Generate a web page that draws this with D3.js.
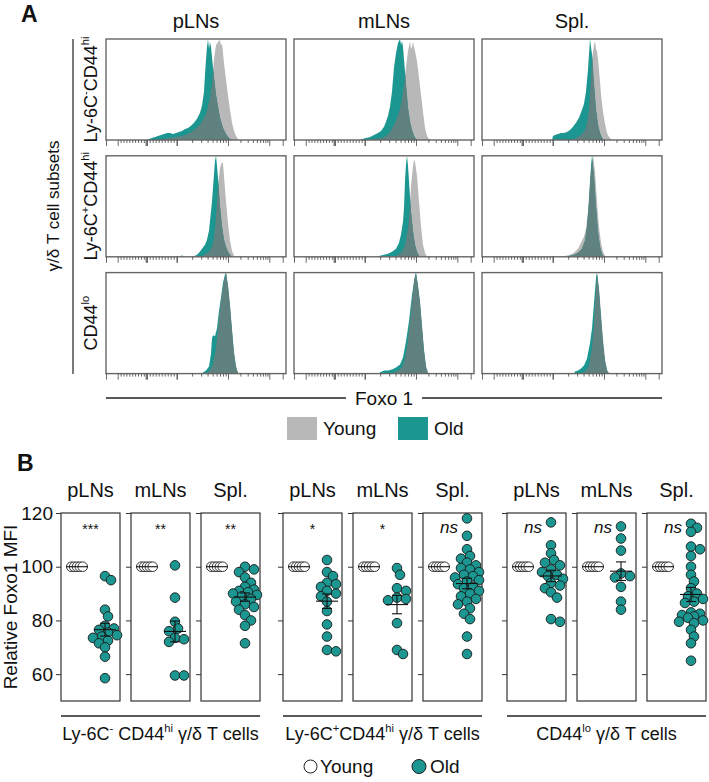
<!DOCTYPE html>
<html>
<head>
<meta charset="utf-8">
<script src="https://cdn.jsdelivr.net/npm/d3@7"></script>
<style>
  body { margin: 0; background: #fff; }
  svg { display: block; font-family: "Liberation Sans", Arial, sans-serif; }
</style>
</head>
<body>
<svg id="fig" width="709" height="782"></svg>
<script>
// ---- data ----
const organs = ['pLNs', 'mLNs', 'Spl.'];
const subsetLabels = [
  [['Ly-6C', 0], ['-', 1], ['CD44', 0], ['hi', 1]],
  [['Ly-6C', 0], ['+', 1], ['CD44', 0], ['hi', 1]],
  [['CD44', 0], ['lo', 1]],
];
const groupLabels = [
  [['Ly-6C', 0], ['-', 1], [' CD44', 0], ['hi', 1], [' γ/δ T cells', 0]],
  [['Ly-6C', 0], ['+', 1], ['CD44', 0], ['hi', 1], [' γ/δ T cells', 0]],
  [['CD44', 0], ['lo', 1], [' γ/δ T cells', 0]],
];

// histograms: [channel, % of max], one list per organ (pLNs, mLNs, Spl.)
const histHiNegYoung = [
  [[54,0],[58,1],[64,2],[70,3],[76,4],[82,6],[88,10],[94,15],[98,22],[101,29],[104,42],[106,56],[108,80],[110,94],[112,97],[114,99],[115,93],[116,96],[118,76],[120,60],[122,44],[124,30],[126,17],[128,9],[130,4],[132,1],[134,0]],
  [[78,0],[82,1],[88,2],[92,4],[96,8],[100,15],[104,24],[107,35],[110,55],[112,72],[114,88],[116,98],[117,90],[118,92],[119,97],[121,88],[123,78],[125,62],[127,45],[129,28],[131,12],[133,4],[135,1],[137,0]],
  [[88,0],[92,1],[96,3],[100,6],[103,10],[105,16],[107,30],[109,60],[110,80],[112,94],[113,98],[114,90],[115,88],[116,80],[118,58],[119,45],[121,28],[123,16],[125,7],[127,3],[129,1],[131,0]],
];
const histHiNegOld = [
  [[41,0],[43,1],[46,2],[49,3],[52,4],[55,5],[58,6],[61,7],[64,7],[67,6],[70,7],[73,8],[76,9],[79,11],[82,12],[85,14],[88,17],[91,21],[94,27],[96,34],[98,48],[99,65],[100,80],[101,92],[102,100],[103,90],[104,97],[105,92],[107,72],[108,62],[110,45],[112,33],[114,22],[117,12],[120,6],[123,2],[126,0]],
  [[66,0],[68,1],[72,2],[76,3],[80,5],[84,7],[87,9],[90,13],[92,18],[94,24],[96,33],[98,48],[100,72],[102,86],[104,96],[106,100],[107,94],[108,98],[109,92],[110,80],[112,55],[114,32],[116,18],[118,10],[120,4],[122,1],[124,0]],
  [[70,0],[71,4],[73,5],[76,6],[79,7],[82,7],[85,8],[88,10],[91,13],[94,17],[97,22],[100,30],[102,36],[104,48],[106,70],[107,85],[108,100],[109,92],[110,85],[111,70],[112,55],[114,30],[116,15],[118,7],[120,2],[122,0]],
];
const histHiPosYoung = [
  [[94,0],[97,1],[100,3],[103,5],[105,8],[107,13],[109,28],[110,40],[112,70],[114,88],[116,94],[117,92],[118,80],[120,55],[122,33],[124,16],[126,6],[128,1],[130,0]],
  [[100,0],[104,2],[108,5],[111,12],[114,28],[116,50],[117,70],[119,90],[120,96],[121,94],[123,80],[125,55],[127,30],[129,12],[131,4],[133,0]],
  [[80,0],[84,1],[88,2],[92,4],[96,8],[99,14],[102,20],[104,28],[106,45],[108,75],[110,95],[111,100],[113,85],[115,55],[117,30],[119,14],[121,5],[123,1],[125,0]],
];
const histHiPosOld = [
  [[75,0],[76,2],[77,0],[87,0],[89,1],[91,2],[93,4],[96,8],[99,12],[101,17],[103,26],[105,45],[106,55],[108,82],[109,95],[110,100],[111,90],[112,78],[114,50],[116,30],[118,17],[120,10],[122,5],[124,2],[126,0]],
  [[82,0],[86,1],[90,2],[94,3],[98,5],[102,8],[105,14],[107,22],[109,35],[110,48],[111,75],[112,92],[113,100],[114,90],[115,75],[117,45],[119,25],[121,12],[123,5],[125,1],[127,0]],
  [[84,0],[88,1],[92,2],[96,4],[100,8],[103,16],[105,30],[107,55],[109,90],[110,100],[112,80],[114,50],[116,25],[118,10],[120,3],[122,0]],
];
const histLoYoung = [
  [[98,0],[101,1],[104,3],[107,10],[110,25],[112,45],[114,65],[116,80],[118,92],[120,100],[122,88],[124,69],[126,45],[128,22],[130,8],[132,1],[134,0]],
  [[98,0],[100,1],[104,3],[108,6],[111,15],[114,33],[117,62],[120,92],[122,100],[124,88],[126,72],[128,48],[130,25],[132,8],[134,1],[136,0]],
  [[98,0],[101,1],[104,3],[107,8],[110,25],[112,50],[114,85],[115,100],[117,85],[119,60],[121,35],[123,15],[125,4],[127,0]],
];
const histLoOld = [
  [[96,0],[97,1],[100,3],[103,7],[105,20],[106,35],[107,38],[109,37],[111,45],[113,62],[115,75],[117,90],[119,98],[120,100],[122,86],[124,66],[126,42],[128,20],[130,6],[132,0]],
  [[85,0],[86,1],[90,3],[94,3],[98,4],[102,6],[106,9],[109,16],[112,32],[115,52],[118,78],[121,97],[122,100],[124,86],[126,70],[128,46],[130,22],[132,6],[134,0]],
  [[92,0],[93,2],[96,3],[99,5],[102,8],[105,15],[108,30],[110,45],[112,70],[114,95],[115,100],[117,82],[119,55],[121,30],[123,12],[125,3],[127,0]],
];

// biexponential display axis, in channels (0-180)
const negDecades = [[11.7, 40.7], [40.7, 70.7]];
const posDecades = [[70.7, 122], [122, 163.3], [163.3, 204.6]];
const axisEnd = 176.7;

// relative Foxo1 MFI, panel B
const mfiYoung = [100, 100, 100, 100, 100];
const mfiHiNegOld = [
  [96.5, 95, 84, 81.5, 78, 77, 76.5, 75.5, 74.5, 74, 73.5, 72.5, 71.5, 70, 66.5, 58.5],
  [100.5, 88.5, 79.5, 77, 76, 73.5, 73, 72, 59.5, 59.5],
  [100, 99, 98, 96, 94, 92.5, 91.5, 91, 90.5, 90, 89.5, 89, 88, 87, 86, 85, 84, 82, 80, 78, 71.5],
];
const mfiHiPosOld = [
  [102.5, 98, 96.5, 94, 93.5, 92.5, 91, 90, 89, 87, 83.5, 78.5, 74, 69, 68.5],
  [99.5, 97, 92, 91, 88.5, 88, 87.5, 79, 69, 67.5],
  [118, 111.5, 106.5, 104, 103, 101.5, 100.5, 99.5, 99, 98, 97, 96.5, 96, 95, 94.5, 93.5, 92.5, 92, 91, 90, 89, 88, 87, 86, 84.5, 82.5, 80.5, 74, 67.5],
];
const mfiLoOld = [
  [116.5, 108, 105, 102.5, 101.5, 100.5, 99, 98, 97, 96.5, 95.5, 94, 93, 92, 90.5, 88.5, 80.5, 79.5],
  [115, 110.5, 106, 97.5, 96.5, 96, 92.5, 87, 84],
  [116, 114.5, 113, 107.5, 106.5, 104, 100, 97, 94.5, 92, 90, 89, 88, 87, 86.5, 83, 82.5, 82, 81.5, 81, 80, 79.5, 79, 76.5, 74, 71.5, 65],
];
const sigMarks = [['***', '**', '**'], ['*', '*', 'ns'], ['ns', 'ns', 'ns']];
const mfiTicks = [60, 80, 100, 120];

// ---- style ----
const GRAY = '#b8b8b8', TEAL = '#1b9690', BOTH = '#5f817f';
const FRAME_A = '#666', INK = '#111';

const svg = d3.select('#fig');
svg.append('rect').attr('width', 709).attr('height', 782).attr('fill', '#fff');

function rich(sel, parts, size) {
  let up = false;
  parts.forEach(([t, sup]) => {
    const ts = sel.append('tspan').text(t).attr('font-size', sup ? size * 0.62 : size);
    if (sup && !up) { ts.attr('dy', -size * 0.42); up = true; }
    else if (!sup && up) { ts.attr('dy', size * 0.42); up = false; }
  });
  return sel;
}

// ================= A =================
svg.append('text').attr('x', 21).attr('y', 22).attr('font-size', 23)
  .attr('font-weight', 'bold').attr('fill', INK).text('A');

const aLeft = 106, aStep = 188, aTop = 39, aRowStep = 116.8, aW = 180, aH = 101;
const xA = d3.scaleLinear().domain([0, 180]).range([0, aW]);
const yA = d3.scaleLinear().domain([0, 100]).range([aH, 0]);
const area = d3.area().x(d => xA(d[0])).y0(aH).y1(d => yA(d[1]));

const majorTicks = [0, axisEnd];
const minorTicks = [];
negDecades.forEach(([a, b]) => {
  majorTicks.push(a, b);
  d3.range(1, 10).forEach(k => minorTicks.push(a + (b - a) * k / 10));
});
majorTicks.push(39.6);
posDecades.forEach(([a, b]) => {
  if (a <= 180) majorTicks.push(a);
  d3.range(2, 10).forEach(k => {
    const v = a + Math.log10(k) * (b - a);
    if (v < axisEnd - 1) minorTicks.push(v);
  });
});

const histRows = [
  [histHiNegYoung, histHiNegOld],
  [histHiPosYoung, histHiPosOld],
  [histLoYoung, histLoOld],
];

organs.forEach((o, c) => {
  svg.append('text').attr('x', aLeft + c * aStep + aW / 2).attr('y', 28)
    .attr('text-anchor', 'middle').attr('font-size', 20).attr('fill', INK).text(o);
});

histRows.forEach(([young, old], r) => {
  const top = aTop + r * aRowStep;
  organs.forEach((o, c) => {
    const g = svg.append('g').attr('transform', `translate(${aLeft + c * aStep},${top})`);
    const id = `yc${r}${c}`;
    g.append('clipPath').attr('id', id).append('path').attr('d', area(young[c]));
    g.append('path').attr('d', area(young[c])).attr('fill', GRAY);
    g.append('path').attr('d', area(old[c])).attr('fill', TEAL);
    g.append('path').attr('d', area(old[c])).attr('fill', BOTH).attr('clip-path', `url(#${id})`);
    g.append('rect').attr('width', aW).attr('height', aH)
      .attr('fill', 'none').attr('stroke', FRAME_A).attr('stroke-width', 1.4);

    const ax = g.append('g').attr('transform', `translate(0,${aH})`);
    ax.append('g').call(d3.axisBottom(xA).tickValues(majorTicks).tickSize(6).tickFormat(''));
    ax.append('g').call(d3.axisBottom(xA).tickValues(minorTicks).tickSize(3).tickFormat(''));
    ax.selectAll('.domain').remove();
    ax.selectAll('line').attr('stroke', '#444').attr('stroke-width', 0.8);
  });
  const lab = svg.append('text')
    .attr('transform', `translate(97,${top + aH / 2}) rotate(-90)`)
    .attr('text-anchor', 'middle').attr('fill', INK);
  rich(lab, subsetLabels[r], 18);
});

// subset bracket
svg.append('line').attr('x1', 73).attr('x2', 73).attr('y1', 39).attr('y2', 374)
  .attr('stroke', '#333').attr('stroke-width', 1.3);
svg.append('text').attr('transform', 'translate(59,206) rotate(-90)')
  .attr('text-anchor', 'middle').attr('font-size', 17).attr('fill', INK)
  .text('γ/δ T cell subsets');

// Foxo 1 axis title
const fx = 384, fy = 398;
const ft = svg.append('text').attr('x', fx).attr('y', fy + 7).attr('text-anchor', 'middle')
  .attr('font-size', 19).attr('fill', INK).text('Foxo 1');
const fw = ft.node().getComputedTextLength();
svg.append('line').attr('x1', aLeft).attr('x2', fx - fw / 2 - 9).attr('y1', fy).attr('y2', fy)
  .attr('stroke', '#222').attr('stroke-width', 1.4);
svg.append('line').attr('x1', fx + fw / 2 + 9).attr('x2', aLeft + 2 * aStep + aW).attr('y1', fy).attr('y2', fy)
  .attr('stroke', '#222').attr('stroke-width', 1.4);

// legend A
const legA = [['Young', GRAY, 287], ['Old', TEAL, 398]];
legA.forEach(([t, col, x]) => {
  svg.append('rect').attr('x', x).attr('y', 417).attr('width', 30).attr('height', 23).attr('fill', col);
  svg.append('text').attr('x', x + 36).attr('y', 435).attr('font-size', 19).attr('fill', INK).text(t);
});

// ================= B =================
svg.append('text').attr('x', 17).attr('y', 471).attr('font-size', 23)
  .attr('font-weight', 'bold').attr('fill', INK).text('B');

const yB = d3.scaleLinear().domain([50, 120]).range([701, 513]);
const bGroupX = [61, 283, 507], bStep = 70, bW = 59;
const oldSets = [mfiHiNegOld, mfiHiPosOld, mfiLoOld];
const R = 4.8;

function swarm(values, cx) {
  const pts = values.map(v => ({ v, y: yB(v) })).sort((a, b) => a.y - b.y);
  const placed = [];
  const offs = [0];
  for (let k = 1; k <= 4; k++) offs.push(k * 3, -k * 3);
  pts.forEach(p => {
    let best = null, bestD = -1;
    for (const o of offs) {
      const d = d3.min(placed, q => Math.hypot(q.x - (cx + o), q.y - p.y)) ?? Infinity;
      if (d >= 7) { best = o; break; }
      if (d > bestD) { bestD = d; best = o; }
    }
    p.x = cx + best;
    placed.push(p);
  });
  return placed;
}

function meanSem(g, vals, cx) {
  const m = d3.mean(vals);
  const s = (d3.deviation(vals) || 0) / Math.sqrt(vals.length);
  g.append('line').attr('x1', cx - 11).attr('x2', cx + 11).attr('y1', yB(m)).attr('y2', yB(m));
  if (s > 0) {
    g.append('line').attr('x1', cx).attr('x2', cx).attr('y1', yB(m + s)).attr('y2', yB(m - s));
    [m + s, m - s].forEach(v => g.append('line')
      .attr('x1', cx - 5).attr('x2', cx + 5).attr('y1', yB(v)).attr('y2', yB(v)));
  }
}

oldSets.forEach((set, gi) => {
  organs.forEach((o, p) => {
    const left = bGroupX[gi] + p * bStep;
    svg.append('text').attr('x', left + bW / 2).attr('y', 497).attr('text-anchor', 'middle')
      .attr('font-size', 20).attr('fill', INK).text(o);
    svg.append('rect').attr('x', left).attr('y', yB(120)).attr('width', bW)
      .attr('height', yB(50) - yB(120)).attr('fill', '#fff').attr('stroke', '#333').attr('stroke-width', 1.2);
    const ax = svg.append('g').attr('transform', `translate(${left},0)`)
      .call(d3.axisLeft(yB).tickValues(mfiTicks).tickSize(5).tickPadding(3)
        .tickFormat(gi === 0 && p === 0 ? d3.format('d') : ''));
    ax.select('.domain').remove();
    ax.selectAll('line').attr('stroke', '#333');
    ax.selectAll('text').attr('font-size', 19).attr('fill', INK)
      .attr('font-family', '"Liberation Sans", Arial, sans-serif');

    // young
    const yc = left + 16;
    mfiYoung.forEach((v, i) => {
      svg.append('circle').attr('cx', yc + (i - 2) * 2.85).attr('cy', yB(v)).attr('r', R)
        .attr('fill', '#fff').attr('stroke', '#222').attr('stroke-width', 0.9);
    });
    // old
    const oc = left + 44;
    swarm(set[p], oc).forEach(d => {
      svg.append('circle').attr('cx', d.x).attr('cy', d.y).attr('r', R)
        .attr('fill', TEAL).attr('stroke', '#1a1a1a').attr('stroke-width', 0.9);
    });
    const eg = svg.append('g').attr('stroke', '#111').attr('stroke-width', 1.1);
    meanSem(eg, mfiYoung, yc);
    meanSem(eg, set[p], oc);

    const sig = sigMarks[gi][p];
    const isNs = sig === 'ns';
    svg.append('text').attr('x', left + (isNs ? 26 : bW / 2)).attr('y', isNs ? 533 : 534)
      .attr('text-anchor', 'middle').attr('font-size', isNs ? 17 : 14)
      .attr('font-style', isNs ? 'italic' : 'normal').attr('fill', INK).text(sig);
  });
  const gx = bGroupX[gi], gw = 2 * bStep + bW;
  svg.append('line').attr('x1', gx).attr('x2', gx + gw).attr('y1', 716).attr('y2', 716)
    .attr('stroke', '#222').attr('stroke-width', 1.4);
  const lab = svg.append('text').attr('x', gx + gw / 2).attr('y', 740)
    .attr('text-anchor', 'middle').attr('fill', INK);
  rich(lab, groupLabels[gi], 18);
});

svg.append('text').attr('transform', `translate(17,${(yB(50) + yB(120)) / 2}) rotate(-90)`)
  .attr('text-anchor', 'middle').attr('font-size', 19).attr('fill', INK).text('Relative Foxo1 MFI');

// legend B
svg.append('circle').attr('cx', 310.5).attr('cy', 766.5).attr('r', 6.5)
  .attr('fill', '#fff').attr('stroke', '#222').attr('stroke-width', 1);
svg.append('text').attr('x', 320).attr('y', 773).attr('font-size', 19).attr('fill', INK).text('Young');
svg.append('circle').attr('cx', 419).attr('cy', 766.5).attr('r', 7)
  .attr('fill', TEAL).attr('stroke', '#1a1a1a').attr('stroke-width', 1);
svg.append('text').attr('x', 430).attr('y', 773).attr('font-size', 19).attr('fill', INK).text('Old');
</script>
</body>
</html>
